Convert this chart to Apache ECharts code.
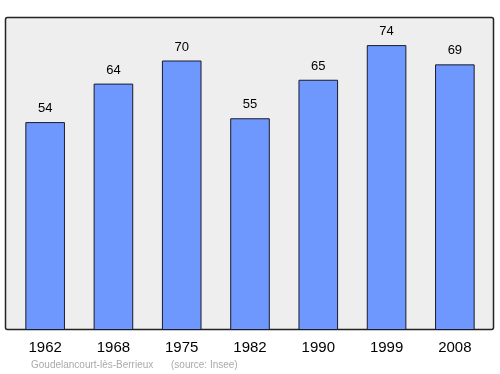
<!DOCTYPE html>
<html><head><meta charset="utf-8">
<script src="https://cdn.jsdelivr.net/npm/echarts@6/dist/echarts.min.js"></script>
<style>html,body{margin:0;padding:0;background:#fff}#c{width:500px;height:374px}</style>
</head><body><div id="c"></div>
<script>
const years = ['1962','1968','1975','1982','1990','1999','2008'];
const population = [54, 64, 70, 55, 65, 74, 69];
const placeName = 'Goudelancourt-lès-Berrieux';
const sourceText = '(source: Insee)';

const chart = echarts.init(document.getElementById('c'), null, {renderer:'canvas'});
chart.setOption({
  animation: false,
  grid: {left: 11, right: 11, top: 17, bottom: 44, show: false},
  xAxis: {type: 'category', data: years,
    axisLine: {show: false}, axisTick: {show: false},
    axisLabel: {color: '#000', fontSize: 15, fontFamily: 'Liberation Sans, Arial', margin: 10}},
  yAxis: {type: 'value', min: 0, max: 81.3, show: false, splitLine: {show: false}},
  series: [{type: 'bar', data: population, barWidth: '58%',
    itemStyle: {color: '#6f98ff', borderColor: '#1a1a2a', borderWidth: 1},
    label: {show: true, position: 'top', distance: 7, color: '#000', fontSize: 13, fontFamily: 'Liberation Sans, Arial'}}],
  graphic: [
    {type: 'rect', z: -10, silent: true, shape: {x: 5.5, y: 17.5, width: 488, height: 312, r: 2},
     style: {fill: '#eeeeee', stroke: '#222', lineWidth: 1.5}},
    {type: 'text', left: 31, top: 360, style: {text: placeName, fill: '#aaaaaa', fontSize: 10, fontFamily: 'Liberation Sans, Arial'}},
    {type: 'text', left: 171, top: 360, style: {text: sourceText, fill: '#aaaaaa', fontSize: 10, fontFamily: 'Liberation Sans, Arial'}}
  ]
});
</script></body></html>
